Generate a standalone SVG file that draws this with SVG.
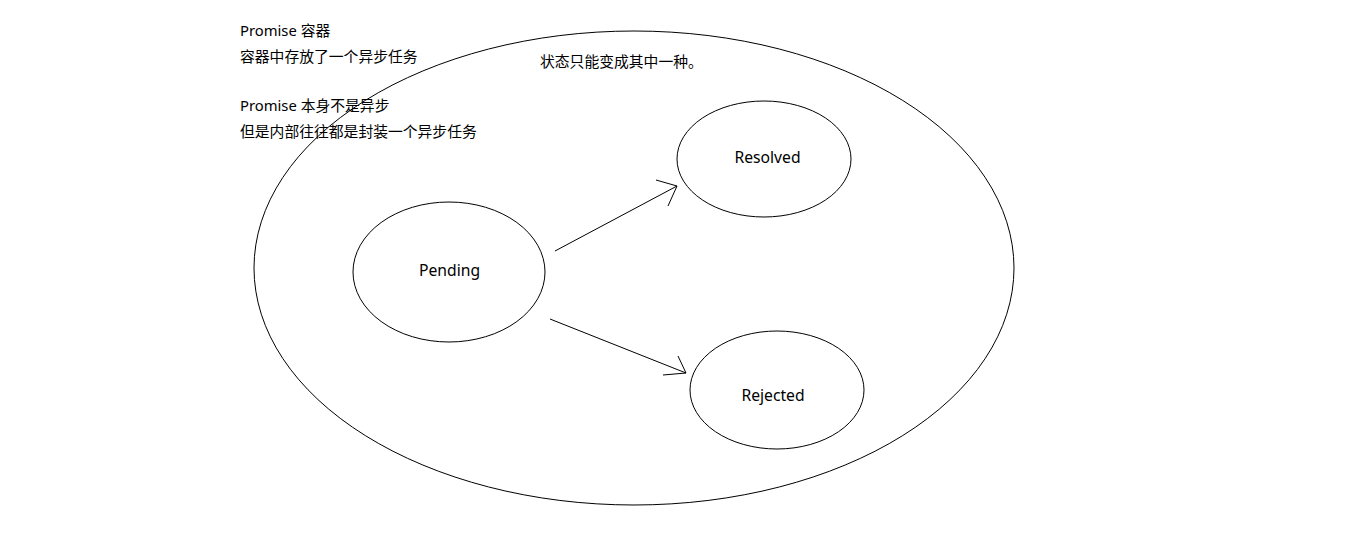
<svg xmlns="http://www.w3.org/2000/svg" width="1359" height="556" viewBox="0 0 1359 556">
<style>
.s{fill:none;stroke:#000;stroke-width:1}
.t{font-family:"Noto Sans","Noto Sans CJK SC",sans-serif;font-size:14.8px;fill:#000}
.l{font-family:"Noto Sans","Noto Sans CJK SC",sans-serif;font-size:15.7px;fill:#000;text-anchor:middle}
</style>
<rect width="1359" height="556" fill="#fff"/>
<g id="notes">
<text class="t" x="240" y="36">Promise 容器</text>
<text class="t" x="240" y="62">容器中存放了一个异步任务</text>
<text class="t" x="240" y="111">Promise 本身不是异步</text>
<text class="t" x="240" y="137">但是内部往往都是封装一个异步任务</text>
</g>
<g id="container">
<ellipse class="s" cx="634" cy="268" rx="380" ry="237"/>
<text class="t" x="540" y="67">状态只能变成其中一种。</text>
</g>
<g id="pending">
<ellipse class="s" cx="449" cy="272" rx="96" ry="70"/>
<text class="l" x="449.5" y="276">Pending</text>
</g>
<g id="resolved">
<ellipse class="s" cx="764" cy="159" rx="87" ry="58"/>
<text class="l" x="767.5" y="163">Resolved</text>
</g>
<g id="rejected">
<ellipse class="s" cx="777" cy="390" rx="87" ry="59"/>
<text class="l" x="773" y="401">Rejected</text>
</g>
<g id="connectors">
<path class="s" d="M555 251 L677 186 M656 180 L677 186 L668 206"/>
<path class="s" d="M550 319 L686 373 M678 356 L686 373 L663 375"/>
</g>
</svg>
